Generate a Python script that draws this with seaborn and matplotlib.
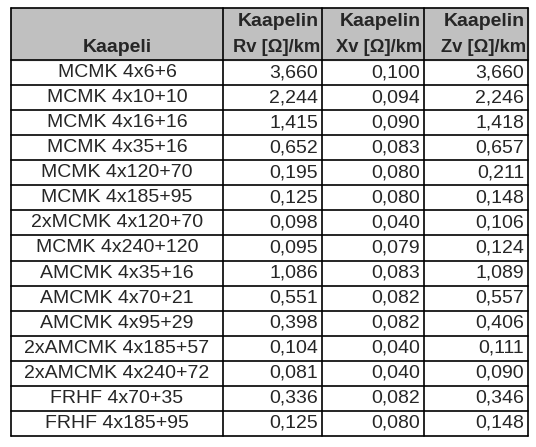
import matplotlib
matplotlib.use("Agg")
import matplotlib.pyplot as plt
import seaborn as sns

sns.set_style("white")
plt.rcParams['font.family'] = ['Liberation Sans', 'DejaVu Sans']

header_top = ["", "Kaapelin", "Kaapelin", "Kaapelin"]
header_bot = ["Kaapeli", "Rv [Ω]/km", "Xv [Ω]/km", "Zv [Ω]/km"]
cables = ["MCMK 4x6+6", "MCMK 4x10+10", "MCMK 4x16+16", "MCMK 4x35+16",
          "MCMK 4x120+70", "MCMK 4x185+95", "2xMCMK 4x120+70", "MCMK 4x240+120",
          "AMCMK 4x35+16", "AMCMK 4x70+21", "AMCMK 4x95+29", "2xAMCMK 4x185+57",
          "2xAMCMK 4x240+72", "FRHF 4x70+35", "FRHF 4x185+95"]
rv = [3.660, 2.244, 1.415, 0.652, 0.195, 0.125, 0.098, 0.095, 1.086, 0.551, 0.398, 0.104, 0.081, 0.336, 0.125]
xv = [0.100, 0.094, 0.090, 0.083, 0.080, 0.080, 0.040, 0.079, 0.083, 0.082, 0.082, 0.040, 0.040, 0.082, 0.080]
zv = [3.660, 2.246, 1.418, 0.657, 0.211, 0.148, 0.106, 0.124, 1.089, 0.557, 0.406, 0.111, 0.090, 0.346, 0.148]

W, H = 536, 447
fig = plt.figure(figsize=(W/100, H/100), dpi=100)
ax = fig.add_axes([0, 0, 1, 1])
ax.set_xlim(0, W); ax.set_ylim(H, 0); ax.axis('off')

cols = [11, 223, 322, 424, 528]
top, head_bot, bottom = 8, 60, 436
n = len(cables)
rh = (bottom - head_bot) / n

ax.add_patch(plt.Rectangle((cols[0], top), cols[-1]-cols[0], head_bot-top, color='#c0c0c0', zorder=0))
for x in cols:
    ax.plot([x, x], [top, bottom], color='black', lw=1.2)
for y in [top, head_bot, bottom]:
    ax.plot([cols[0], cols[-1]], [y, y], color='black', lw=1.2)
for i in range(1, n):
    y = head_bot + i*rh
    ax.plot([cols[0], cols[-1]], [y, y], color='black', lw=1.2)

fs = 14
hfs = 14
for j in range(4):
    if j == 0:
        ax.text((cols[0]+cols[1])/2, 47, header_bot[0], ha='center', va='center', fontsize=hfs, fontweight='bold')
    else:
        ax.text(cols[j+1]-3, 21, header_top[j], ha='right', va='center', fontsize=hfs, fontweight='bold')
        ax.text(cols[j+1]-2, 47, header_bot[j], ha='right', va='center', fontsize=hfs-0.8, fontweight='bold')

fmt = lambda v: f"{v:.3f}".replace('.', ',')
for i, name in enumerate(cables):
    yc = head_bot + (i+0.5)*rh
    ax.text((cols[0]+cols[1])/2, yc, name, ha='center', va='center', fontsize=fs)
    for j, arr in enumerate([rv, xv, zv]):
        ax.text(cols[j+2]-4, yc, fmt(arr[i]), ha='right', va='center', fontsize=fs)

fig.savefig("out.png", dpi=100, facecolor='white')
